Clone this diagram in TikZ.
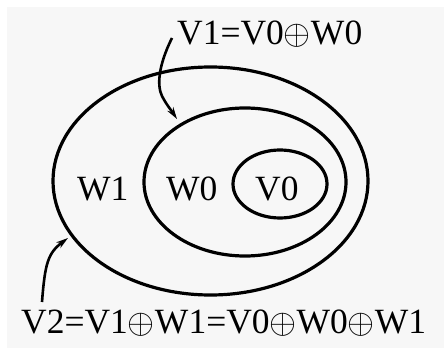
\documentclass[tikz,border=0pt]{standalone}
\usepackage{fontspec}
\setmainfont{Liberation Serif}
\newcommand{\dsum}{\resizebox{27pt}{!}{$\oplus$}}
\usetikzlibrary{shapes.geometric,arrows.meta}
\begin{document}
\begin{tikzpicture}[x=1pt,y=1pt,
  ring/.style={draw,ellipse,line width=3.2pt,inner sep=0pt},
  lbl/.style={anchor=base west,inner sep=0pt,font=\fontsize{35.5}{40}\selectfont},
  pointer/.style={line width=2.6pt,-{Stealth[length=12pt,width=7pt]}}]
\useasboundingbox (0,0) rectangle (444,348);
\fill[white] (0,0) rectangle (444,348);
\fill[black!3] (7,0) rectangle (444,341);
\node[ring,minimum width=315pt,minimum height=228pt] (outer) at (210.5,167) {};
\node[ring,minimum width=202pt,minimum height=148pt] (middle) at (245,166) {};
\node[ring,minimum width=94pt,minimum height=68pt] (inner) at (280,164) {};
\node[lbl] (w1) at (77,147) {W1};
\node[lbl] (w0) at (166,147) {W0};
\node[lbl] (v0) at (255,147) {V0};
\node[lbl] (top) at (177,303) {V1=V0\dsum W0};
\node[lbl] (bottom) at (21,15) {V2=V1\dsum W1=V0\dsum W0\dsum W1};
\coordinate (ts) at (172,310);
\coordinate (te) at (177,229);
\coordinate (bs) at (42,46);
\coordinate (be) at (68,110);
\draw[pointer] (ts) .. controls (158,282) and (157,262) .. (162,252) .. controls (166,244) and (171,238) .. (te);
\draw[pointer] (bs) .. controls (45,85) and (48,95) .. (be);
\end{tikzpicture}
\end{document}
